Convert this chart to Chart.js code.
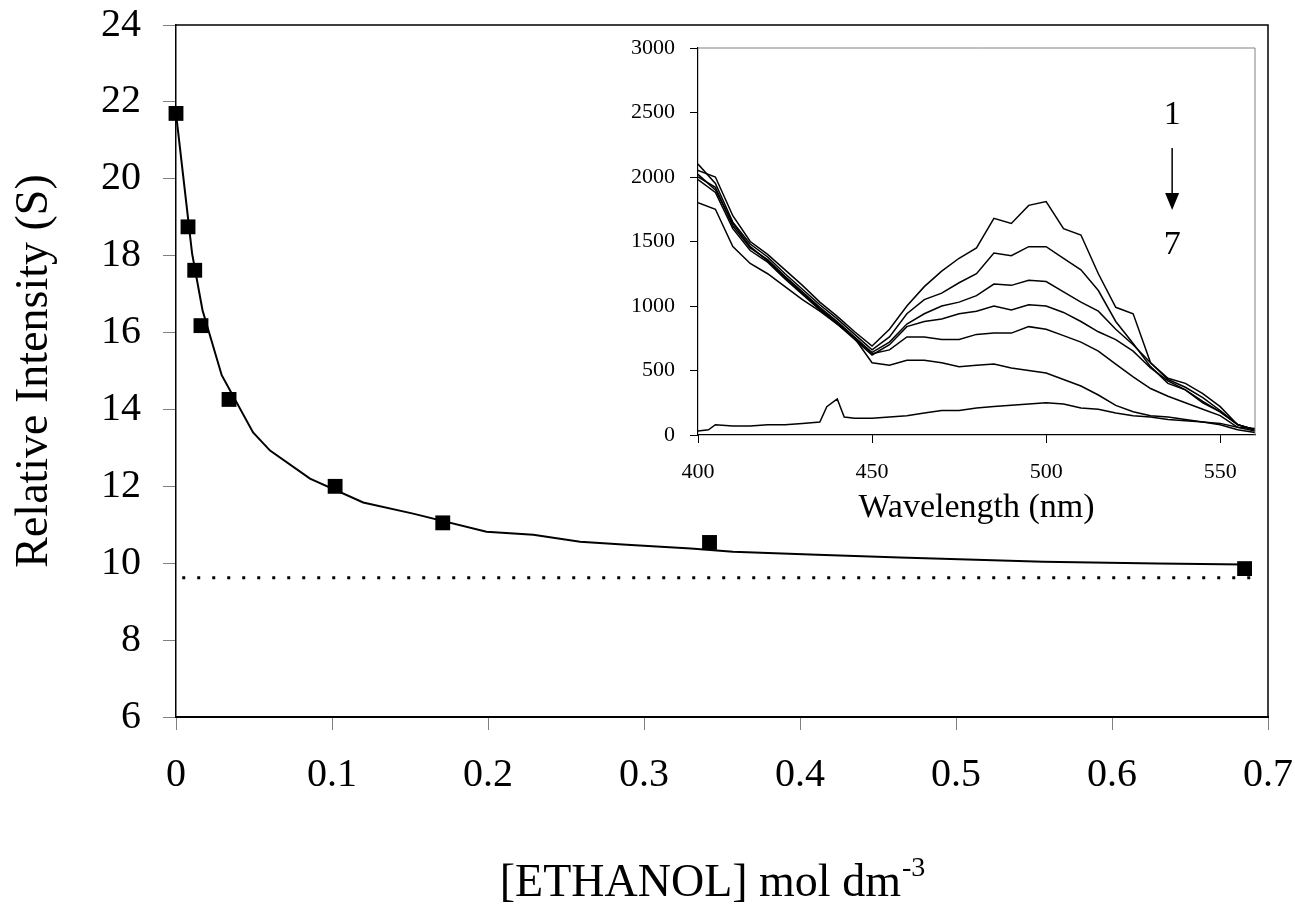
<!DOCTYPE html>
<html>
<head>
<meta charset="utf-8">
<script src="https://cdn.jsdelivr.net/npm/chart.js@4"></script>
<style>
  html, body { margin: 0; padding: 0; background: #fff; }
  #wrap { position: relative; width: 1295px; height: 921px; }
  #main { position: absolute; left: 0; top: 0; }
  #inset { position: absolute; left: 600px; top: 26px; }
</style>
</head>
<body>
<div id="wrap">
  <canvas id="main" width="1295" height="921"></canvas>
  <canvas id="inset" width="664" height="520"></canvas>
</div>
<script>
// ---- main plot: relative intensity vs ethanol concentration ----
const ethanolConc = [0, 0.0077, 0.012, 0.016, 0.034, 0.102, 0.171, 0.342, 0.685];
const relIntensity = [21.7, 18.75, 17.62, 16.18, 14.26, 12.0, 11.05, 10.54, 9.86];

// fitted curve
const fitConc = [0, 0.0103, 0.017, 0.0293, 0.0494, 0.0603, 0.0859, 0.12, 0.152, 0.199, 0.229, 0.259, 0.289, 0.33, 0.357, 0.411, 0.464, 0.556, 0.629, 0.685];
const fitIntensity = [21.7, 18.06, 16.58, 14.89, 13.4, 12.93, 12.2, 11.58, 11.29, 10.82, 10.74, 10.56, 10.48, 10.38, 10.3, 10.22, 10.15, 10.04, 9.99, 9.97];

// limiting value (dotted line)
const limitConc = [0.004, 0.69];
const limitIntensity = [9.62, 9.62];

const mainXTicks = [0, 0.1, 0.2, 0.3, 0.4, 0.5, 0.6, 0.7];
const mainXLabels = ['0', '0.1', '0.2', '0.3', '0.4', '0.5', '0.6', '0.7'];
const mainYTicks = [6, 8, 10, 12, 14, 16, 18, 20, 22, 24];

// ---- inset: emission spectra 1..7 ----
const wavelengths = [400,405,410,415,420,425,430,435,440,445,450,455,460,465,470,475,480,485,490,495,500,505,510,515,520,525,530,535,540,545,550,555,560];
const spec1 = [2050,2000,1700,1500,1400,1280,1160,1030,920,800,690,820,1000,1150,1270,1370,1450,1680,1640,1780,1810,1600,1550,1250,990,940,560,440,400,320,220,80,40];
const spec2 = [2100,1950,1650,1480,1380,1250,1130,1010,900,780,660,760,940,1050,1100,1180,1250,1410,1390,1460,1460,1370,1280,1120,880,710,530,400,350,250,180,80,40];
const spec3 = [2000,1920,1620,1450,1360,1230,1110,990,880,760,640,720,860,940,1000,1030,1080,1170,1160,1200,1190,1110,1030,960,820,700,560,430,370,290,190,80,40];
const spec4 = [1980,1880,1600,1430,1340,1210,1090,970,860,740,620,700,840,880,900,940,960,1000,970,1010,1000,950,880,800,740,650,520,420,350,260,180,80,40];
const spec5 = [2020,1900,1640,1460,1350,1220,1100,980,870,750,630,660,760,760,740,740,780,790,790,840,820,770,720,650,550,450,360,300,250,200,150,60,30];
const spec6 = [1800,1750,1460,1330,1250,1150,1050,960,860,750,560,540,580,580,560,530,540,550,520,500,480,430,380,310,230,180,150,140,120,100,80,40,20];
const spec7Wavelengths = [400,403,405,410,415,420,425,430,435,437,440,442,445,450,455,460,465,470,475,480,485,490,495,500,505,510,515,520,525,530,535,540,545,550,555,560];
const spec7 = [30,40,80,70,70,80,80,90,100,220,280,140,130,130,140,150,170,190,190,210,220,230,240,250,240,210,200,170,150,140,120,110,100,90,60,50];

const insetXTicks = [400, 450, 500, 550];
const insetYTicks = [0, 500, 1000, 1500, 2000, 2500, 3000];

const serif = 'Liberation Serif';

function pts(xs, ys) {
    return xs.map((x, i) => ({ x: x, y: ys[i] }));
}

// keep tick labels from pushing the plot area inwards
function noPad(s) {
    s.paddingTop = 0;
    s.paddingBottom = 0;
    s.paddingLeft = 0;
    s.paddingRight = 0;
}

// frame on top and right of the plot area
const frame = {
    id: 'frame',
    afterDraw(chart, args, opts) {
        const a = chart.chartArea;
        const ctx = chart.ctx;
        ctx.save();
        ctx.strokeStyle = opts.color;
        ctx.lineWidth = opts.width;
        ctx.beginPath();
        ctx.moveTo(a.left, a.top);
        ctx.lineTo(a.right, a.top);
        ctx.lineTo(a.right, a.bottom);
        ctx.stroke();
        ctx.restore();
    }
};

// x title with superscript
const xTitle = {
    id: 'xTitle',
    afterDraw(chart) {
        const ctx = chart.ctx;
        const a = chart.chartArea;
        ctx.save();
        ctx.fillStyle = '#000';
        ctx.textBaseline = 'alphabetic';
        ctx.font = '46px "' + serif + '"';
        const main = '[ETHANOL] mol dm';
        const sup = '-3';
        const w1 = ctx.measureText(main).width;
        ctx.font = '28px "' + serif + '"';
        const w2 = ctx.measureText(sup).width;
        const x0 = (a.left + a.right) / 2 - 10 - (w1 + w2) / 2;
        const base = 896;
        ctx.font = '46px "' + serif + '"';
        ctx.fillText(main, x0, base);
        ctx.font = '28px "' + serif + '"';
        ctx.fillText(sup, x0 + w1 + 1, base - 20);
        ctx.restore();
    }
};

new Chart(document.getElementById('main'), {
    type: 'scatter',
    data: {
        datasets: [
            {
                data: pts(ethanolConc, relIntensity),
                pointStyle: 'rect',
                pointRadius: 10.5,
                pointHoverRadius: 10.5,
                backgroundColor: '#000',
                borderColor: '#000',
                borderWidth: 0,
                showLine: false,
                clip: false
            },
            {
                data: pts(fitConc, fitIntensity),
                showLine: true,
                borderColor: '#000',
                borderWidth: 2,
                pointRadius: 0,
                tension: 0
            },
            {
                data: pts(limitConc, limitIntensity),
                showLine: true,
                borderColor: '#000',
                borderWidth: 3,
                borderDash: [3, 12],
                borderCapStyle: 'butt',
                pointRadius: 0
            }
        ]
    },
    options: {
        responsive: false,
        devicePixelRatio: 1,
        animation: false,
        layout: { padding: { left: 0, top: 25, right: 27, bottom: 0 } },
        plugins: {
            legend: { display: false },
            tooltip: { enabled: false },
            frame: { color: '#000', width: 1.5 }
        },
        scales: {
            x: {
                type: 'linear',
                min: 0,
                max: 0.7,
                afterBuildTicks: s => { s.ticks = mainXTicks.map(v => ({ value: v })); },
                afterFit: s => { s.height = 204; noPad(s); },
                grid: { drawOnChartArea: false, tickLength: 13, color: '#808080' },
                border: { display: true, color: '#000', width: 2 },
                ticks: {
                    color: '#000',
                    font: { family: serif, size: 40 },
                    padding: 21,
                    maxRotation: 0,
                    callback: (v, i) => mainXLabels[i]
                },
                title: { display: false }
            },
            y: {
                min: 6,
                max: 24,
                afterBuildTicks: s => { s.ticks = mainYTicks.map(v => ({ value: v })); },
                afterFit: s => { s.width = 176; noPad(s); },
                grid: { drawOnChartArea: false, tickLength: 13, color: '#808080' },
                border: { display: true, color: '#000', width: 1.5 },
                ticks: {
                    color: '#000',
                    font: { family: serif, size: 40 },
                    padding: 22
                },
                title: {
                    display: true,
                    text: 'Relative Intensity (S)',
                    color: '#000',
                    font: { family: serif, size: 46 },
                    padding: { top: 7, bottom: 0 }
                }
            }
        }
    },
    plugins: [frame, xTitle]
});

// "1 -> 7" arrow note in the inset
const insetNote = {
    id: 'insetNote',
    afterDraw(chart) {
        const ctx = chart.ctx;
        const x = chart.scales.x, y = chart.scales.y;
        const px = x.getPixelForValue(536.2);
        ctx.save();
        ctx.fillStyle = '#000';
        ctx.strokeStyle = '#000';
        ctx.font = '34px "' + serif + '"';
        ctx.textAlign = 'center';
        ctx.textBaseline = 'middle';
        ctx.fillText('1', px, y.getPixelForValue(2480));
        ctx.fillText('7', px, y.getPixelForValue(1473));
        const yTop = y.getPixelForValue(2225);
        const yHead = y.getPixelForValue(1876);
        const yTip = y.getPixelForValue(1744);
        ctx.lineWidth = 1.5;
        ctx.beginPath();
        ctx.moveTo(px, yTop);
        ctx.lineTo(px, yHead);
        ctx.stroke();
        ctx.beginPath();
        ctx.moveTo(px - 7, yHead);
        ctx.lineTo(px + 7, yHead);
        ctx.lineTo(px, yTip);
        ctx.closePath();
        ctx.fill();
        ctx.restore();
    }
};

const spectra = [spec1, spec2, spec3, spec4, spec5, spec6];
const insetSets = spectra.map(s => ({
    data: pts(wavelengths, s),
    showLine: true,
    borderColor: '#000',
    borderWidth: 1.5,
    pointRadius: 0,
    tension: 0
}));
insetSets.push({
    data: pts(spec7Wavelengths, spec7),
    showLine: true,
    borderColor: '#000',
    borderWidth: 1.5,
    pointRadius: 0,
    tension: 0
});

new Chart(document.getElementById('inset'), {
    type: 'scatter',
    data: { datasets: insetSets },
    options: {
        responsive: false,
        devicePixelRatio: 1,
        animation: false,
        layout: { padding: { left: 0, top: 22, right: 9, bottom: 0 } },
        plugins: {
            legend: { display: false },
            tooltip: { enabled: false },
            frame: { color: '#808080', width: 1 }
        },
        scales: {
            x: {
                type: 'linear',
                min: 400,
                max: 560,
                afterBuildTicks: s => { s.ticks = insetXTicks.map(v => ({ value: v })); },
                afterFit: s => { s.height = 111; noPad(s); },
                grid: { drawOnChartArea: false, tickLength: 8, color: '#000' },
                border: { display: true, color: '#000', width: 1.2 },
                ticks: {
                    color: '#000',
                    font: { family: serif, size: 22 },
                    padding: 16,
                    maxRotation: 0,
                    callback: v => String(v)
                },
                title: {
                    display: true,
                    text: 'Wavelength (nm)',
                    color: '#000',
                    font: { family: serif, size: 34 },
                    padding: { top: 0, bottom: 18 }
                }
            },
            y: {
                min: 0,
                max: 3000,
                afterBuildTicks: s => { s.ticks = insetYTicks.map(v => ({ value: v })); },
                afterFit: s => { s.width = 98; noPad(s); },
                grid: { drawOnChartArea: false, tickLength: 8, color: '#000' },
                border: { display: true, color: '#000', width: 1.2 },
                ticks: {
                    color: '#000',
                    font: { family: serif, size: 22 },
                    padding: 15,
                    callback: v => String(v)
                }
            }
        }
    },
    plugins: [frame, insetNote]
});
</script>
</body>
</html>
